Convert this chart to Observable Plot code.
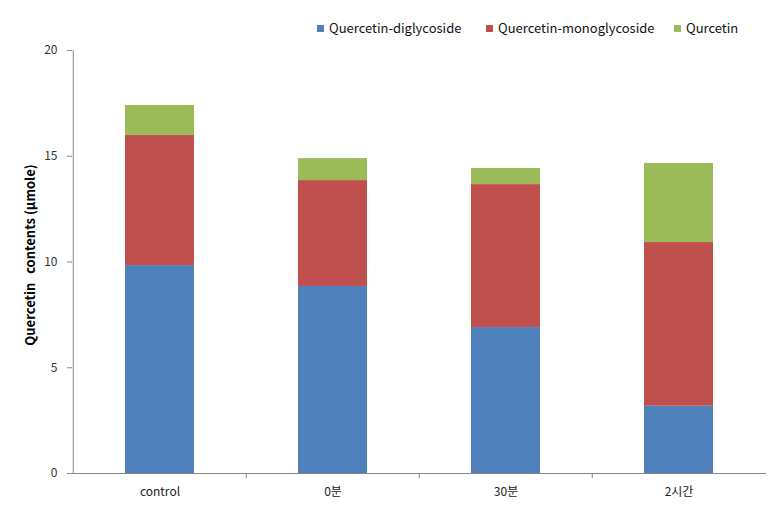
<!DOCTYPE html>
<html>
<head>
<meta charset="utf-8">
<script src="https://cdn.jsdelivr.net/npm/d3@7"></script>
<script src="https://cdn.jsdelivr.net/npm/@observablehq/plot@0.6"></script>
<style>
  html, body { margin: 0; padding: 0; background: #fff; }
  #wrap { position: relative; width: 781px; height: 515px; font-family: "Noto Sans CJK KR", "Noto Sans", sans-serif; }
  .leg { position: absolute; top: 19px; font-size: 13px; color: #111; white-space: nowrap; line-height: 17px; }
  .leg span.sw { display: inline-block; width: 7px; height: 7px; margin-right: 5px; vertical-align: 1px; }
</style>
</head>
<body>
<div id="wrap"></div>
<script>
const categories = ["control", "0분", "30분", "2시간"];
const series = ["Quercetin-diglycoside", "Quercetin-monoglycoside", "Qurcetin"];
const diglycoside = [9.83, 8.84, 6.90, 3.18];
const monoglycoside = [6.15, 5.01, 6.76, 7.74];
const qurcetin = [1.42, 1.04, 0.76, 3.74];
const colors = ["#4F81BD", "#C0504D", "#9BBB59"];
const yTicks = [0, 5, 10, 15, 20];
const yLabel = "Quercetin\u00a0\u00a0 contents (μmole)";

const values = [diglycoside, monoglycoside, qurcetin];
const rows = [];
series.forEach((s, i) => categories.forEach((c, j) => rows.push({cat: c, series: s, value: values[i][j]})));

const W = 781, H = 515;
const mL = 72, mR = 15;
const step = (W - mL - mR) / categories.length;
const font = "\"Noto Sans CJK KR\", \"Noto Sans\", sans-serif";

const chart = Plot.plot({
  width: W,
  height: H,
  marginLeft: mL,
  marginRight: mR,
  marginTop: 50,
  marginBottom: 42,
  style: {fontFamily: font, fontSize: "12px", color: "#333", background: "#fff"},
  x: {domain: categories, paddingInner: 0.6, paddingOuter: 0.3, label: null},
  y: {domain: [0, 20], label: null},
  color: {domain: series, range: colors},
  marks: [
    Plot.barY(rows, {x: "cat", y: "value", fill: "series", order: series}),
    Plot.ruleY([0], {stroke: "#868686", strokeWidth: 1}),
    Plot.ruleX([0], {x: () => categories[0], dx: -step / 2, y1: 0, y2: 20, stroke: "#868686"}),
    Plot.ruleX(categories.slice(1), {x: d => d, dx: -step / 2, y1: 0, y2: -0.25, stroke: "#868686"}),
    Plot.axisY({ticks: yTicks, tickSize: 5, tickPadding: 10, stroke: "#868686", fill: "#333", label: null}),
    Plot.axisX({tickSize: 0, tickPadding: 14, fill: "#222", label: null}),
    Plot.text([yLabel], {text: d => d, frameAnchor: "left", textAnchor: "middle", rotate: -90, dx: -42, dy: -7, fontWeight: "bold", fontSize: 13, fill: "#000"})
  ]
});

const wrap = document.getElementById("wrap");
wrap.appendChild(chart);

const legX = [317, 486, 674];
series.forEach((s, i) => {
  const d = document.createElement("div");
  d.className = "leg";
  d.style.left = legX[i] + "px";
  d.innerHTML = `<span class="sw" style="background:${colors[i]}"></span>${s}`;
  wrap.appendChild(d);
});
</script>
</body>
</html>
